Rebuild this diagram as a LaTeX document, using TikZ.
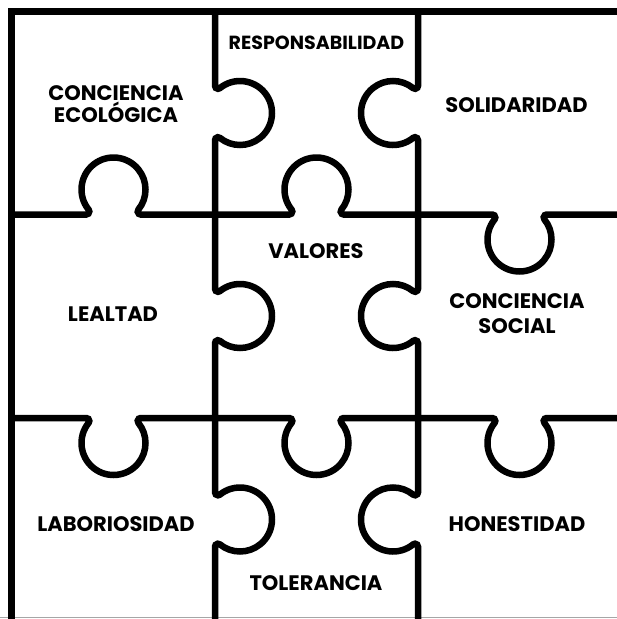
\documentclass[tikz,border=0pt]{standalone}
\usepackage{fontspec}
\setmainfont{Poppins}
\begin{document}
\begin{tikzpicture}[x=1pt,y=1pt,yscale=-1,
  edge/.style={line width=6.5pt,line join=miter,draw=black},
  lbl/.style={font=\bfseries\fontsize{21}{22.5}\selectfont,align=center,inner sep=0pt,text=black}]
\useasboundingbox (0,0) rectangle (617,619);
\fill[white] (0,0) rectangle (617,619);
\draw[gray!70,line width=1pt] (0,617.5) -- (617,617.5);
\def\knob{-- (-27.22,0) arc[start angle=-90,end angle=38.94,radius=3] arc[start angle=218.94,end angle=-38.94,radius=32] arc[start angle=141.06,end angle=270,radius=3]}
% outer border (left and top)
\draw[edge] (11.5,630) -- (11.5,11.5) -- (630,11.5);
% horizontal line 1
\draw[edge] (11.5,214.5)
  {[cm={1,0,0,-1,(113.5,214.5)}] \knob}
  {[cm={1,0,0,-1,(316.5,214.5)}] \knob}
  {[cm={1,0,0,1,(519.5,214.5)}] \knob}
  -- (630,214.5);
% horizontal line 2
\draw[edge] (11.5,418)
  {[cm={1,0,0,1,(113.5,418)}] \knob}
  {[cm={1,0,0,1,(316.5,418)}] \knob}
  {[cm={1,0,0,1,(519.5,418)}] \knob}
  -- (630,418);
% vertical line 1 (knobs to the right)
\draw[edge] (215,11.5)
  {[cm={0,1,1,0,(215,113)}] \knob}
  {[cm={0,1,1,0,(215,316)}] \knob}
  {[cm={0,1,1,0,(215,519.5)}] \knob}
  -- (215,630);
% vertical line 2 (knobs to the left)
\draw[edge] (418,630)
  {[cm={0,-1,-1,0,(418,519.5)}] \knob}
  {[cm={0,-1,-1,0,(418,316)}] \knob}
  {[cm={0,-1,-1,0,(418,113)}] \knob}
  -- (418,11.5);
% labels
\node[lbl,font=\bfseries\fontsize{19}{22.5}\selectfont] (resp) at (316.5,42.5) {RESPONSABILIDAD};
\node[lbl] (eco) at (116,104) {CONCIENCIA\\ECOLÓGICA};
\node[lbl] (soli) at (516.5,105) {SOLIDARIDAD};
\node[lbl] (valo) at (316,251) {VALORES};
\node[lbl] (leal) at (113,314) {LEALTAD};
\node[lbl,font=\bfseries\fontsize{21}{25}\selectfont] (soc) at (517,314) {CONCIENCIA\\SOCIAL};
\node[lbl] (labo) at (116,524.5) {LABORIOSIDAD};
\node[lbl] (tole) at (316,583.5) {TOLERANCIA};
\node[lbl] (hone) at (517,524.5) {HONESTIDAD};
\end{tikzpicture}
\end{document}
